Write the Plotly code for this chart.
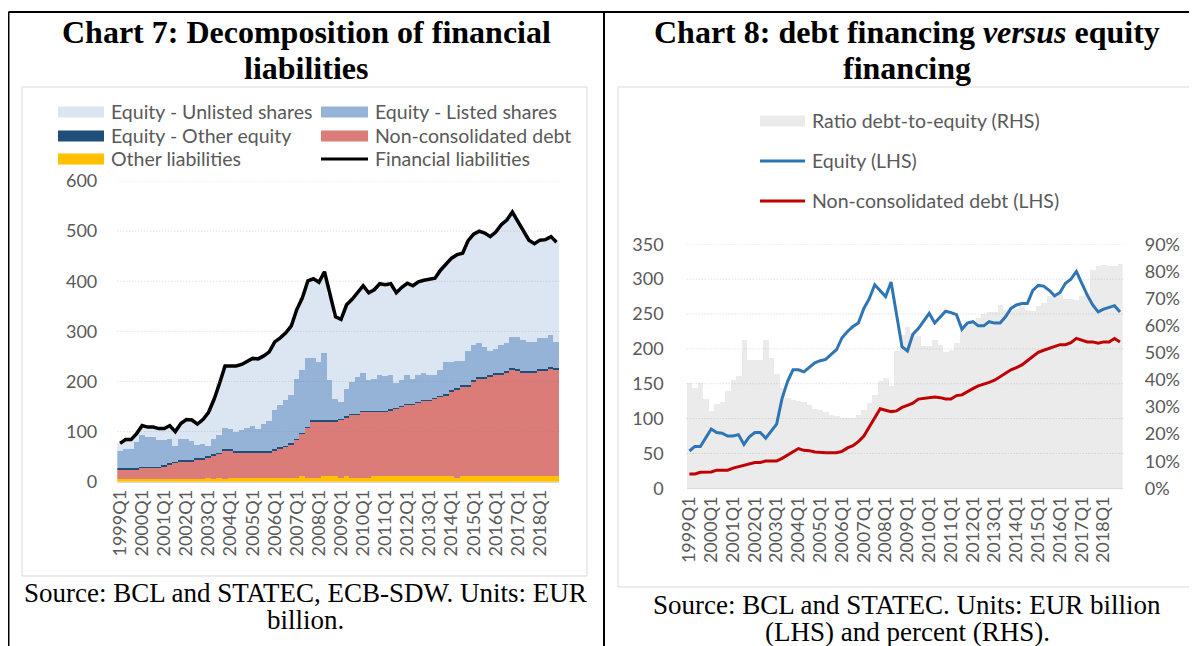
import plotly.graph_objects as go

# The page body has an 8px margin, so the figure is drawn 8px in from the top-left corner.
OFF = 8
FIG_W, FIG_H = 1197 - OFF, 646 - OFF


def fx(px):
    return (px - OFF) / FIG_W


def fy(py):
    return 1 - (py - OFF) / FIG_H


years = list(range(1999, 2019))
quarters = [f"{y}Q{q}" for y in years for q in range(1, 5)]
q1_ticks = [f"{y}Q1" for y in years]

# ---------------- Chart 7 data (EUR billion) ----------------
other_liabilities = [5, 5, 5, 5, 5, 5, 5, 5, 5, 5, 5, 5, 5, 5, 5, 5, 8, 5, 8, 5,
                     7, 7, 7, 7, 7, 7, 7, 7, 7, 7, 7, 7, 7, 11, 7, 7, 7, 11, 11, 11,
                     8, 11, 8, 8, 8, 8, 11, 11, 11, 11, 11, 11, 11, 11, 11, 11, 11, 11, 11, 11,
                     11, 8, 11, 11, 11, 11, 11, 11, 11, 11, 11, 11, 11, 11, 11, 11, 11, 11, 11, 11]
non_consolidated_debt = [20, 20, 20, 20, 23, 23, 23, 23, 26, 30, 33, 36, 36, 36, 40, 40, 41, 48, 48, 58,
                         56, 52, 52, 52, 52, 52, 52, 52, 56, 60, 63, 68, 77, 85, 100.5, 113.5, 113.5, 109.5, 109.5, 109.5,
                         115.5, 117.5, 125.5, 125.5, 131.5, 131.5, 128.5, 128.5, 128.5, 131.5, 134.5, 138.5, 142.5, 142.5, 146.5, 150.5, 150.5, 154.5, 158.5, 161.5,
                         168.5, 175.5, 179.5, 179.5, 188.5, 194.5, 194.5, 198.5, 202.5, 202.5, 206.5, 213.5, 211.5, 207.5, 207.5, 207.5, 210.5, 210.5, 214.5, 212.5]
equity_other = [2, 2, 2, 2, 2, 2, 2, 2, 2, 2, 2, 2, 2, 2, 2, 2, 2, 2, 2, 2,
                2, 2, 2, 2, 2, 2, 2, 2, 2, 2, 2, 2, 2, 2, 2.5, 2.5, 2.5, 2.5, 2.5, 2.5,
                2.5, 2.5, 2.5, 2.5, 2.5, 2.5, 2.5, 2.5, 2.5, 2.5, 2.5, 2.5, 2.5, 2.5, 2.5, 2.5, 2.5, 2.5, 2.5, 2.5,
                2.5, 2.5, 2.5, 2.5, 2.5, 2.5, 2.5, 2.5, 2.5, 2.5, 2.5, 2.5, 2.5, 2.5, 2.5, 2.5, 2.5, 2.5, 2.5, 2.5]
equity_listed = [34, 39, 39, 53, 63, 60, 60, 54, 51, 49, 32, 43, 43, 39, 26, 28, 21, 31, 35, 43,
                 40, 39, 43, 47, 50, 45, 54, 61, 78, 84, 91, 96, 118, 125, 136, 123, 115, 134, 79, 43,
                 34, 53, 62, 72, 74, 60, 62, 71, 68, 67, 48, 50, 57, 48, 53, 52, 48, 44, 51, 63,
                 56, 55, 48, 68, 71, 68, 61, 49, 49, 57, 56, 62, 64, 62, 58, 58, 62, 62, 64, 53]
equity_unlisted = [15.5, 18, 18, 16, 19, 19, 19, 22, 22, 26, 28, 30, 38, 41, 42, 49, 66, 78, 103, 123,
                   126, 131, 130, 133, 135, 139, 136, 137, 136, 134, 134, 138, 140, 144, 155, 159, 160, 162, 172, 163,
                   164, 169, 166, 169, 175, 175, 179, 182, 183, 183, 181, 186, 183, 187, 186, 186, 192, 194, 199, 197,
                   208, 212, 215, 220, 221, 224, 227, 228, 233, 240, 246, 249, 231, 216, 203, 196, 196, 197, 197, 199]
financial_liabilities = [76.5, 84, 84, 96, 112, 109, 109, 106, 106, 112, 100, 116, 124, 123, 115, 124, 138, 164, 196, 231,
                         231, 231, 234, 241, 246, 245, 251, 259, 279, 287, 297, 311, 344, 367, 401, 405, 398, 419, 374, 329,
                         324, 353, 364, 377, 391, 377, 383, 395, 393, 395, 377, 388, 396, 391, 399, 402, 404, 406, 422, 435,
                         446, 453, 456, 481, 494, 500, 496, 489, 498, 513, 522, 538, 520, 499, 482, 475, 482, 483, 489, 478]

# ---------------- Chart 8 data ----------------
equity_lhs = [53.5, 60, 60, 72, 85, 80, 79, 75, 75, 77, 63, 74, 80, 80, 72, 82, 92, 129, 153, 170,
              170, 167, 173, 180, 183, 185, 192, 199, 216, 225, 232, 237, 258, 272, 292, 284, 275, 296, 250, 203,
              197, 221, 229, 240, 251, 237, 245, 254, 252, 249, 228, 237, 239, 233, 233, 239, 237, 237, 246, 258,
              263, 265, 265, 284, 291, 290, 284, 276, 281, 294, 300, 311, 294, 277, 263, 253, 257, 260, 262, 253]
debt_lhs = [20.5, 20.5, 23, 23.5, 23.5, 26, 26, 26, 29, 31, 33.5, 35, 37, 37, 39, 39, 39, 43, 48, 52,
            57, 54.5, 54, 52, 51, 51, 51, 51, 53, 58, 61, 67, 75, 88, 102, 114, 112, 110, 111, 116,
            119, 122, 128, 129, 130, 131, 130, 128, 128, 133, 134, 139, 143, 147, 149, 152, 155, 160, 165, 170,
            173, 177, 183, 189, 195, 198, 201, 203, 206, 206, 209, 215, 212, 210, 210, 208, 210, 210, 215, 210]
ratio_rhs = [38.7, 37, 38.7, 33, 28.3, 31, 31.6, 35.7, 39.7, 41.4, 54.7, 47.3, 47.3, 47.3, 54.7, 48, 42, 36.9, 33.2, 32.5,
             32.2, 31.6, 30.7, 29.3, 28.6, 28, 27, 26.4, 25.8, 25.8, 25.8, 27, 28.9, 31.4, 34.4, 39.3, 40.6, 37.5, 50.4, 56.6,
             59.3, 57.2, 56, 52.3, 52.3, 54.7, 52.9, 50.2, 51, 53.5, 57.8, 60.2, 61.2, 62.7, 64.2, 64.9, 64.9, 67.4, 65.8, 65.2,
             66.2, 67, 65.8, 65.4, 67, 68.2, 70.8, 72, 71.3, 69.8, 69.8, 69.5, 71, 72, 80.5, 82, 82.3, 82, 82, 82.5]

y7_ticks = [0, 100, 200, 300, 400, 500, 600]
y8_ticks = [0, 50, 100, 150, 200, 250, 300, 350]
y8r_ticks = [0, 10, 20, 30, 40, 50, 60, 70, 80, 90]
y8r_text = ["0%", "10%", "20%", "30%", "40%", "50%", "60%", "70%", "80%", "90%"]

C_UNL = "#dce6f2"
C_LIS = "#95b3d7"
C_OEQ = "#1f4e79"
C_DEBT = "#dc7c79"
C_OTH = "#ffc000"
C_GRAY = "#ebebeb"
C_BLUE = "#2e75b6"
C_RED = "#c00000"
TXT = "#595959"
SANS = "Lato"
SERIF = "Liberation Serif"

fig = go.Figure()

stack = [
    ("Other liabilities", other_liabilities, C_OTH),
    ("Non-consolidated debt", non_consolidated_debt, C_DEBT),
    ("Equity - Other equity", equity_other, C_OEQ),
    ("Equity - Listed shares", equity_listed, C_LIS),
    ("Equity - Unlisted shares", equity_unlisted, C_UNL),
]
for name, vals, col in stack:
    fig.add_trace(go.Bar(x=quarters, y=vals, name=name, marker=dict(color=col, line=dict(width=0)),
                         xaxis="x", yaxis="y", showlegend=False))
fig.add_trace(go.Scatter(x=quarters, y=financial_liabilities, name="Financial liabilities", mode="lines",
                         line=dict(color="black", width=3.5), xaxis="x", yaxis="y", showlegend=False))

fig.add_trace(go.Bar(x=quarters, y=ratio_rhs, name="Ratio debt-to-equity (RHS)",
                     marker=dict(color=C_GRAY, line=dict(width=0)), xaxis="x2", yaxis="y2", showlegend=False))
fig.add_trace(go.Scatter(x=quarters, y=equity_lhs, name="Equity (LHS)", mode="lines",
                         line=dict(color=C_BLUE, width=3), xaxis="x2", yaxis="y3", showlegend=False))
fig.add_trace(go.Scatter(x=quarters, y=debt_lhs, name="Non-consolidated debt (LHS)", mode="lines",
                         line=dict(color=C_RED, width=3), xaxis="x2", yaxis="y3", showlegend=False))

tickfont = dict(family=SANS, size=18, color=TXT)
xcommon = dict(type="category", categoryorder="array", categoryarray=quarters, tickmode="array",
               tickvals=q1_ticks, ticktext=q1_ticks, tickangle=-90, tickfont=dict(family=SANS, size=18, color=TXT),
               showgrid=False, zeroline=False, showline=True, linecolor="#d9d9d9", linewidth=1, ticks="",
               range=[-0.5, 79.5], fixedrange=True, automargin=False)

fig.update_layout(
    width=FIG_W, height=FIG_H, autosize=False, margin=dict(l=0, r=0, t=0, b=0, pad=0, autoexpand=False),
    paper_bgcolor="white", plot_bgcolor="rgba(0,0,0,0)",
    barmode="stack", bargap=0, showlegend=False,
    xaxis=dict(domain=[fx(117.3), fx(559.3)], anchor="y", **xcommon),
    yaxis=dict(domain=[fy(481.7), fy(181)], anchor="x", range=[0, 600], tickmode="array", tickvals=y7_ticks,
               showgrid=False, zeroline=False, showline=False, ticks="", tickfont=tickfont, ticklabelstandoff=19,
               automargin=False),
    xaxis2=dict(domain=[fx(686.7), fx(1122.7)], anchor="y2", **xcommon),
    yaxis2=dict(domain=[fy(488.3), fy(244.3)], anchor="x2", side="right", range=[0, 90], tickmode="array",
                tickvals=y8r_ticks, ticktext=y8r_text, showgrid=False, zeroline=False, showline=False, ticks="",
                tickfont=tickfont, ticklabelstandoff=21, automargin=False),
    yaxis3=dict(overlaying="y2", anchor="x2", side="left", range=[0, 350], tickmode="array", tickvals=y8_ticks,
                showgrid=False, zeroline=False, showline=False, ticks="", tickfont=tickfont, ticklabelstandoff=22,
                automargin=False),
)

shapes = []
grid_line = dict(color="rgba(120,120,120,0.32)", width=1, dash="1px,2px")
for v in y7_ticks[1:]:
    shapes.append(dict(type="line", xref="x domain", yref="y", x0=0, x1=1, y0=v, y1=v, layer="above", line=grid_line))
for v in y8_ticks[1:]:
    shapes.append(dict(type="line", xref="x2 domain", yref="y3", x0=0, x1=1, y0=v, y1=v, layer="above", line=grid_line))

# chart frames
shapes.append(dict(type="rect", xref="paper", yref="paper", x0=fx(22), x1=fx(587), y0=fy(576), y1=fy(87),
                   line=dict(color="#d9d9d9", width=1), layer="below"))
shapes.append(dict(type="rect", xref="paper", yref="paper", x0=fx(618), x1=fx(1193), y0=fy(587), y1=fy(87),
                   line=dict(color="#d9d9d9", width=1), layer="below"))
# table borders
for (x0, y0, x1, y1) in [(8.5, 12, 1197, 12), (8.5, 12, 8.5, 646), (604, 12, 604, 646)]:
    shapes.append(dict(type="line", xref="paper", yref="paper", x0=fx(x0), x1=fx(x1), y0=fy(y0), y1=fy(y1),
                       line=dict(color="black", width=2), layer="above"))

annotations = []


def legend_entry(kind, color, sx0, sx1, cy, text):
    if kind == "rect":
        shapes.append(dict(type="rect", xref="paper", yref="paper", x0=fx(sx0), x1=fx(sx1), y0=fy(cy + 5.5),
                           y1=fy(cy - 5.5), line=dict(width=0), fillcolor=color, layer="above"))
    else:
        shapes.append(dict(type="line", xref="paper", yref="paper", x0=fx(sx0), x1=fx(sx1), y0=fy(cy), y1=fy(cy),
                           line=dict(color=color, width=3), layer="above"))
    annotations.append(dict(x=fx(sx1 + 5), y=fy(cy), xref="paper", yref="paper", xanchor="left", yanchor="middle",
                            text=text, showarrow=False, font=dict(family=SANS, size=19.5, color=TXT)))


legend_entry("rect", C_UNL, 58, 104, 112, "Equity - Unlisted shares")
legend_entry("rect", C_LIS, 321, 368, 112, "Equity - Listed shares")
legend_entry("rect", C_OEQ, 58, 104, 136, "Equity - Other equity")
legend_entry("rect", C_DEBT, 321, 368, 136, "Non-consolidated debt")
legend_entry("rect", C_OTH, 58, 104, 159, "Other liabilities")
legend_entry("line", "black", 321, 368, 159, "Financial liabilities")

legend_entry("rect", C_GRAY, 760, 805, 121, "Ratio debt-to-equity (RHS)")
legend_entry("line", C_BLUE, 760, 805, 161, "Equity (LHS)")
legend_entry("line", C_RED, 760, 805, 201, "Non-consolidated debt (LHS)")


def text_line(x, y, text, font):
    annotations.append(dict(x=fx(x), y=fy(y), xref="paper", yref="paper", xanchor="center", yanchor="middle",
                            text=text, showarrow=False, font=font))


title_font = dict(family=SERIF, size=32, color="black")
source_font = dict(family=SERIF, size=27, color="black")
text_line(306, 32, "<b>Chart 7: Decomposition of financial</b>", title_font)
text_line(306, 68, "<b>liabilities</b>", title_font)
text_line(907, 32, "<b>Chart 8: debt financing <i>versus</i> equity</b>", title_font)
text_line(907, 68, "<b>financing</b>", title_font)
text_line(305, 593, "Source: BCL and STATEC, ECB-SDW. Units: EUR", source_font)
text_line(305, 620, "billion.", source_font)
text_line(907, 605, "Source: BCL and STATEC. Units: EUR billion", source_font)
text_line(907, 632, "(LHS) and percent (RHS).", source_font)

fig.update_layout(shapes=shapes, annotations=annotations)
fig.write_html("out.html")
